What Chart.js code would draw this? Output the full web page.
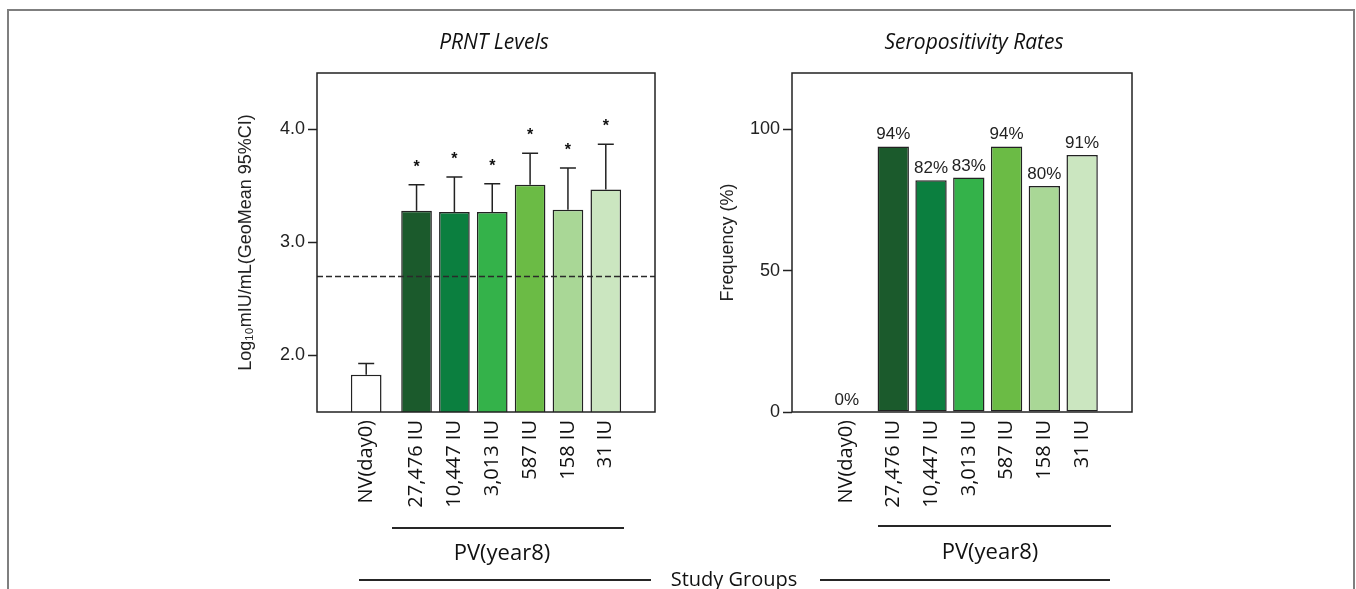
<!DOCTYPE html>
<html>
<head>
<meta charset="utf-8">
<script src="https://cdn.jsdelivr.net/npm/chart.js@4.4.1/dist/chart.umd.min.js"></script>
<style>
  html, body { margin: 0; padding: 0; background: #fff; }
  body { width: 1356px; height: 589px; position: relative; overflow: hidden; font-family: "Open Sans", sans-serif; color: #111; }
  canvas { position: absolute; left: 0; top: 0; }
  .rule { position: absolute; background: #7f7f7f; }
  .line { position: absolute; height: 2px; background: #262626; }
  .txt { position: absolute; white-space: nowrap; line-height: 1; transform: translateX(-50%); }
  .panel-title { font-style: italic; font-size: 21px; }
  .group { font-size: 22px; }
  .study { font-size: 20px; }
</style>
</head>
<body>
<div class="rule" style="left:7px; top:9px; width:1348px; height:2px;"></div>
<div class="rule" style="left:7px; top:9px; width:2px; height:580px;"></div>
<div class="rule" style="left:1353px; top:9px; width:2px; height:580px;"></div>

<canvas id="prnt" width="1356" height="589" style="width:1356px;height:589px;"></canvas>
<canvas id="sero" width="1356" height="589" style="width:1356px;height:589px;"></canvas>

<div class="txt panel-title" style="left:494px; top:31px;">PRNT Levels</div>
<div class="txt panel-title" style="left:974px; top:31px;">Seropositivity Rates</div>

<div class="line" style="left:392px; top:527px; width:232px;"></div>
<div class="txt group" style="left:502px; top:540px;">PV(year8)</div>
<div class="line" style="left:878px; top:525px; width:233px;"></div>
<div class="txt group" style="left:990px; top:539px;">PV(year8)</div>

<div class="line" style="left:359px; top:579px; width:292px;"></div>
<div class="txt study" style="left:734px; top:569px;">Study Groups</div>
<div class="line" style="left:820px; top:579px; width:290px;"></div>

<script>
// Study groups: naive volunteers at day 0 and primary vaccinees at year 8 by vaccine dose
const groupLabels = ['NV(day0)', '27,476 IU', '10,447 IU', '3,013 IU', '587 IU', '158 IU', '31 IU'];

// PRNT geometric mean titres, log10 mIU/mL, with upper 95% CI
const prntGeoMean = [1.83, 3.28, 3.27, 3.27, 3.51, 3.29, 3.47];
const prntUpperCI = [1.93, 3.51, 3.58, 3.52, 3.79, 3.66, 3.87];
const prntSignificant = [false, true, true, true, true, true, true];
const prntTicks = [2.0, 3.0, 4.0];
const seroprotectionCutoff = 2.7;

// Seropositivity rates, %
const seroRates = [0, 94, 82, 83, 94, 80, 91];
const seroTicks = [0, 50, 100];

const barColors = ['#ffffff', '#1b5a2c', '#0b7f3f', '#34b24a', '#6bbb45', '#a9d796', '#cbe6c0'];

const INK = '#222222';
const TICK_FONT = { family: 'Liberation Sans', size: 18 };
const AXIS_FONT = { family: 'Liberation Sans', size: 18 };

// x positions: NV bar, a wider gap, then the six PV bars one slot apart
function slotPositions(first, gap) {
  return groupLabels.map((_, i) => i === 0 ? first : first + gap + (i - 1));
}

function xScale(positions, max) {
  return {
    type: 'linear',
    min: 0,
    max: max,
    offset: false,
    grid: { display: false, drawTicks: false },
    border: { display: false },
    afterBuildTicks: s => { s.ticks = positions.map(v => ({ value: v })); },
    afterFit: s => { s.height = 177; },
    ticks: {
      autoSkip: false,
      minRotation: 90,
      maxRotation: 90,
      padding: 8,
      color: '#111',
      font: { family: 'Open Sans', size: 20 },
      callback: (v, i) => groupLabels[i]
    }
  };
}

function yScale(min, max, ticks, width, title, fmt) {
  return {
    min: min,
    max: max,
    afterBuildTicks: s => { s.ticks = ticks.map(v => ({ value: v })); },
    afterFit: s => { s.width = width; },
    grid: { drawOnChartArea: false, drawTicks: true, tickLength: 9, tickColor: INK, tickWidth: 1.5 },
    border: { display: false },
    ticks: { padding: 3, color: INK, font: TICK_FONT, callback: fmt },
    title: { display: true, text: title, color: INK, font: AXIS_FONT, padding: { top: 5, bottom: 0 } }
  };
}

function frameBox(chart) {
  const { ctx, chartArea: a } = chart;
  ctx.save();
  ctx.lineWidth = 1.5;
  ctx.strokeStyle = INK;
  ctx.strokeRect(a.left, a.top, a.right - a.left, a.bottom - a.top);
  ctx.restore();
}

const prntMarks = {
  id: 'prntMarks',
  afterDatasetsDraw(chart) {
    const { ctx, chartArea: a, scales: { y } } = chart;
    const bars = chart.getDatasetMeta(0).data;
    ctx.save();
    // seroprotection cut-off
    const cy = y.getPixelForValue(seroprotectionCutoff);
    ctx.setLineDash([6, 3]);
    ctx.lineWidth = 1.5;
    ctx.strokeStyle = '#2a2a2a';
    ctx.beginPath();
    ctx.moveTo(a.left, cy);
    ctx.lineTo(a.right, cy);
    ctx.stroke();
    ctx.setLineDash([]);
    // upper 95% CI whiskers and significance stars
    ctx.strokeStyle = INK;
    ctx.fillStyle = '#111';
    ctx.font = 'bold 16px "Liberation Sans"';
    ctx.textAlign = 'center';
    ctx.textBaseline = 'alphabetic';
    bars.forEach((bar, i) => {
      const top = y.getPixelForValue(prntGeoMean[i]);
      const hi = y.getPixelForValue(prntUpperCI[i]);
      ctx.beginPath();
      ctx.moveTo(bar.x, top);
      ctx.lineTo(bar.x, hi);
      ctx.moveTo(bar.x - 8, hi);
      ctx.lineTo(bar.x + 8, hi);
      ctx.stroke();
      if (prntSignificant[i]) {
        ctx.fillText('*', bar.x, hi - 22 + 9);
      }
    });
    ctx.restore();
    frameBox(chart);
  }
};

const seroMarks = {
  id: 'seroMarks',
  afterDatasetsDraw(chart) {
    const { ctx, scales: { y } } = chart;
    const bars = chart.getDatasetMeta(0).data;
    ctx.save();
    ctx.fillStyle = INK;
    ctx.font = '17px "Liberation Sans"';
    ctx.textAlign = 'center';
    ctx.textBaseline = 'alphabetic';
    bars.forEach((bar, i) => {
      ctx.fillText(seroRates[i] + '%', bar.x, y.getPixelForValue(seroRates[i]) - 7);
    });
    ctx.restore();
    frameBox(chart);
  }
};

const commonOptions = {
  responsive: false,
  animation: false,
  events: [],
  plugins: { legend: { display: false }, tooltip: { enabled: false } }
};

const prntPos = slotPositions(1.30, 1.33);
new Chart(document.getElementById('prnt'), {
  type: 'bar',
  data: {
    datasets: [{
      data: prntGeoMean.map((v, i) => ({ x: prntPos[i], y: v })),
      backgroundColor: barColors,
      borderColor: INK,
      borderWidth: 1.5,
      borderSkipped: false,
      barPercentage: 0.81,
      categoryPercentage: 1
    }]
  },
  options: Object.assign({}, commonOptions, {
    layout: { padding: { left: 230, top: 73, right: 701, bottom: 0 } },
    scales: {
      x: xScale(prntPos, 8.93),
      y: yScale(1.5, 4.5, prntTicks, 87, 'Log₁₀mIU/mL(GeoMean 95%CI)', v => v.toFixed(1))
    }
  }),
  plugins: [prntMarks]
});

const seroPos = slotPositions(1.45, 1.23);
new Chart(document.getElementById('sero'), {
  type: 'bar',
  data: {
    datasets: [{
      data: seroRates.map((v, i) => ({ x: seroPos[i], y: v })),
      backgroundColor: barColors,
      borderColor: INK,
      borderWidth: 1.5,
      borderSkipped: false,
      barPercentage: 0.83,
      categoryPercentage: 1
    }]
  },
  options: Object.assign({}, commonOptions, {
    layout: { padding: { left: 712, top: 73, right: 224, bottom: 0 } },
    scales: {
      x: xScale(seroPos, 9.0),
      y: yScale(0, 120, seroTicks, 80, 'Frequency (%)', v => String(v))
    }
  }),
  plugins: [seroMarks]
});
</script>
</body>
</html>
